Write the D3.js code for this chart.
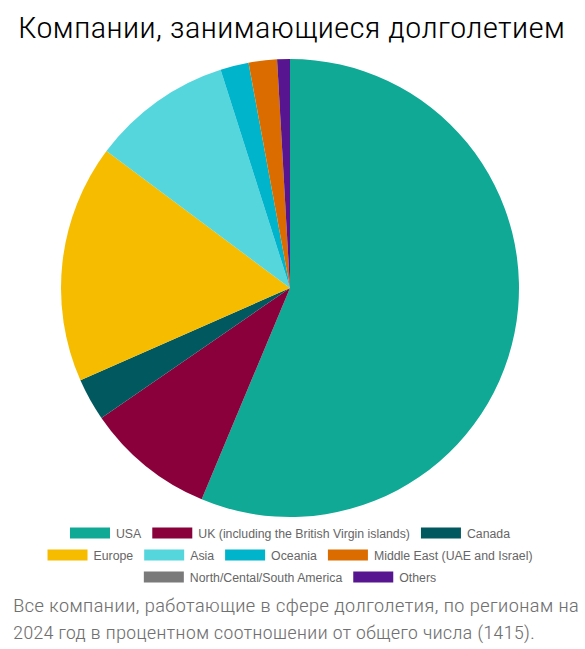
<!DOCTYPE html>
<html>
<head>
<meta charset="utf-8">
<script src="https://cdn.jsdelivr.net/npm/d3@7/dist/d3.min.js"></script>
<style>
  html, body { margin: 0; padding: 0; background: #fff; }
  svg { display: block; }
</style>
</head>
<body>
<svg id="chart" width="585" height="649"></svg>
<script>
const categories = ["USA", "UK (including the British Virgin islands)", "Canada", "Europe", "Asia", "Oceania", "Middle East (UAE and Israel)", "North/Cental/South America", "Others"];
const values = [56.3, 9.1, 3.0, 16.8, 9.9, 2.0, 2.0, 0.0, 0.9];
const colors = ["#0fa996", "#8a003a", "#01585e", "#f6bc00", "#55d6dd", "#00b4cc", "#db6c00", "#7a7a7a", "#57168f"];
const legendRows = [[0, 1, 2], [3, 4, 5, 6], [7, 8]];
const title = "Компании, занимающиеся долголетием";
const subtitleLines = ["Все компании, работающие в сфере долголетия, по регионам на", "2024 год в процентном соотношении от общего числа (1415)."];

const svg = d3.select("#chart");
const condensed = "'Roboto Condensed', 'Liberation Sans Narrow', 'DejaVu Sans Condensed', Roboto, sans-serif";

// Title
svg.append("text")
  .attr("x", 18).attr("y", 38)
  .attr("textLength", 547).attr("lengthAdjust", "spacingAndGlyphs")
  .style("font-family", condensed).style("font-size", "30px").style("font-weight", "300").style("fill", "#000")
  .text(title);

// Pie
const cx = 290, cy = 288, r = 229;
const pie = d3.pie().sort(null).value(d => d.v);
const arc = d3.arc().innerRadius(0).outerRadius(r);
const data = categories.map((c, i) => ({ c, v: values[i], col: colors[i] }));
svg.append("g").attr("transform", `translate(${cx},${cy})`)
  .selectAll("path").data(pie(data)).join("path")
  .attr("d", arc).attr("fill", d => d.data.col);

// Legend
const color = d3.scaleOrdinal().domain(categories).range(colors);
const rowY = [533, 555, 577];
const swW = 40, swH = 11, gapST = 6, gapItem = 11;
legendRows.forEach((row, ri) => {
  const g = svg.append("g");
  let x = 0;
  row.forEach(idx => {
    const item = g.append("g").attr("transform", `translate(${x},0)`);
    item.append("rect").attr("x", 0).attr("y", -swH / 2).attr("width", swW).attr("height", swH)
      .attr("fill", color(categories[idx]));
    const t = item.append("text").attr("x", swW + gapST).attr("y", 4.5)
      .style("font-family", "'Liberation Sans', Arial, sans-serif").style("font-size", "12.3px")
      .style("fill", "#666").text(categories[idx]);
    x += swW + gapST + t.node().getComputedTextLength() + gapItem;
  });
  const total = x - gapItem;
  g.attr("transform", `translate(${cx - total / 2},${rowY[ri]})`);
});

// Subtitle
const subLen = [566, 522];
const subY = [612, 639];
subtitleLines.forEach((s, i) => {
  svg.append("text")
    .attr("x", 13).attr("y", subY[i])
    .attr("textLength", subLen[i]).attr("lengthAdjust", "spacingAndGlyphs")
    .style("font-family", condensed).style("font-size", "18.5px").style("font-weight", "300").style("fill", "#707070")
    .text(s);
});
</script>
</body>
</html>
